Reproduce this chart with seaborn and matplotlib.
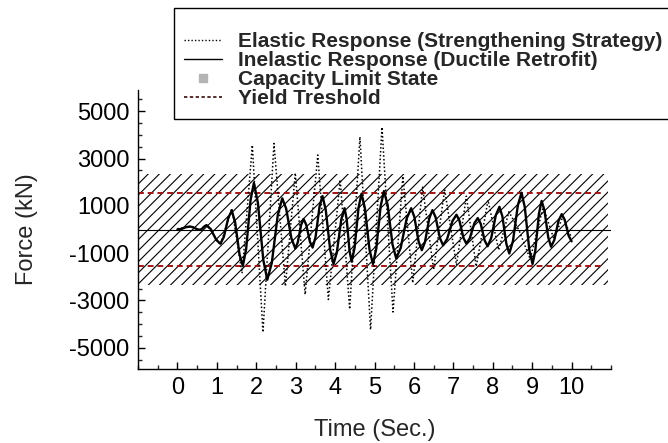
import numpy as np
import pandas as pd
import matplotlib.pyplot as plt
import seaborn as sns
from matplotlib.lines import Line2D
from matplotlib.ticker import MultipleLocator

sns.set_style("ticks")
plt.rcParams.update({
    "font.family": ["Liberation Sans", "DejaVu Sans"],
    "font.size": 17,
    "hatch.linewidth": 0.8,
    "xtick.direction": "in",
    "ytick.direction": "in",
})

# points (time in s, force in kN)
inelastic_t = [0.0, 0.10, 0.22, 0.32, 0.395, 0.495, 0.57, 0.62, 0.69, 0.74, 0.845, 0.985,
               1.09, 1.177, 1.293, 1.38, 1.464, 1.576, 1.66, 1.744, 1.856, 1.94, 2.042, 2.178,
               2.28, 2.394, 2.546, 2.66, 2.759, 2.891, 2.99, 3.053, 3.137, 3.20, 3.269, 3.361,
               3.43, 3.505, 3.605, 3.68, 3.764, 3.876, 3.96, 4.044, 4.156, 4.24, 4.294, 4.366,
               4.42, 4.495, 4.595, 4.67, 4.757, 4.873, 4.96, 5.044, 5.156, 5.24, 5.333, 5.457,
               5.55, 5.664, 5.816, 5.93, 6.011, 6.119, 6.20, 6.281, 6.389, 6.47, 6.551, 6.659,
               6.74, 6.842, 6.978, 7.08, 7.155, 7.255, 7.33, 7.417, 7.533, 7.62, 7.695, 7.795,
               7.87, 7.96, 8.08, 8.17, 8.245, 8.345, 8.42, 8.513, 8.637, 8.73, 8.814, 8.926,
               9.01, 9.079, 9.171, 9.24, 9.312, 9.408, 9.48, 9.561, 9.669, 9.75, 9.825, 9.925, 10.0]
inelastic_f = [0, 26, 99, 125, 96, 14, -15, 25, 140, 180, 19, -439,
               -600, -314, 504, 790, 310, -1060, -1540, -817, 1247, 1970, 1126, -1281,
               -2125, -1415, 610, 1320, 882, -367, -805, -548, 188, 445, 196, -516,
               -765, -316, 966, 1415, 823, -868, -1460, -974, 414, 900, 434, -894,
               -1360, -769, 919, 1510, 898, -848, -1460, -824, 989, 1625, 1039, -634,
               -1220, -783, 463, 900, 534, -509, -875, -526, 471, 820, 514, -361,
               -667, -401, 359, 625, 373, -348, -600, -376, 262, 485, 239, -464,
               -710, -366, 616, 960, 553, -608, -1015, -486, 1026, 1555, 934, -839,
               -1460, -910, 660, 1210, 810, -330, -730, -446, 366, 650, 413, -263, -500]

elastic_t = [0.0, 0.32, 0.57, 0.74, 1.09, 1.38, 1.64, 1.90, 2.17, 2.45, 2.74, 2.99,
             3.24, 3.56, 3.83, 4.13, 4.37, 4.63, 4.90, 5.19, 5.47, 5.72, 5.97, 6.22,
             6.50, 6.78, 7.08, 7.33, 7.58, 7.88, 8.15, 8.41, 8.67, 8.95, 9.28, 9.55, 9.78, 10.0]
elastic_f = [30, 130, -20, 200, -650, 900, -1850, 3570, -4350, 3640, -2400, 2390,
             -2750, 3150, -2960, 2110, -3375, 3920, -4240, 4330, -3490, 2250, -2260, 1790,
             -1700, 1690, -1500, 1410, -1570, 1240, -870, 750, -50, -1250, 950, -400, 550, -350]

capacity_limit = 2350
yield_force = 1530
x_ticks = list(range(0, 11))
y_ticks = [-5000, -3000, -1000, 1000, 3000, 5000]

inelastic = pd.DataFrame({"t": inelastic_t, "F": inelastic_f})
elastic = pd.DataFrame({"t": elastic_t, "F": elastic_f})

fig = plt.figure(figsize=(6.68, 4.43), dpi=100)
ax = fig.add_axes([138 / 668, 1 - 369 / 443, 473 / 668, 279 / 443])

# capacity band (hatched) and reference lines
ax.fill_between([-1, 10.92], -capacity_limit, capacity_limit, facecolor="white",
                edgecolor="black", hatch="///", linewidth=0, zorder=1)
ax.axhline(0, color="black", lw=0.8, zorder=2)
ax.hlines([yield_force, -yield_force], -1, 10.75, colors="#a31515",
          linestyles=(0, (3, 2)), lw=1.4, zorder=2)

sns.lineplot(data=elastic, x="t", y="F", ax=ax, color="black", lw=1.1,
             linestyle=(0, (1, 1.5)), sort=False, estimator=None, zorder=3)
sns.lineplot(data=inelastic, x="t", y="F", ax=ax, color="black", lw=1.7,
             sort=False, estimator=None, zorder=4)

ax.set_xlim(-1, 11)
ax.set_ylim(-5900, 5900)
ax.set_xticks(x_ticks)
ax.set_yticks(y_ticks)
ax.set_yticklabels([str(v) for v in y_ticks])
ax.xaxis.set_minor_locator(MultipleLocator(0.5))
ax.yaxis.set_minor_locator(MultipleLocator(500))
ax.tick_params(which="major", length=5, width=1, pad=6, colors="black")
ax.tick_params(which="minor", length=3, width=1)
sns.despine(ax=ax)
for s in ["left", "bottom"]:
    ax.spines[s].set_linewidth(1.0)
    ax.spines[s].set_color("black")

ax.set_xlabel("Time (Sec.)")
ax.set_ylabel("Force (kN)")
ax.xaxis.set_label_coords(0.5, -0.18)
ax.yaxis.set_label_coords(-0.212, 0.5)

handles = [
    Line2D([], [], color="black", lw=1, linestyle=(0, (1, 1.5))),
    Line2D([], [], color="black", lw=1),
    Line2D([], [], color="#b4b4b4", marker="s", markersize=6, linestyle="none"),
    Line2D([], [], color="#3a0a0a", lw=1.2, linestyle=(0, (2, 1.5))),
]
labels = ["Elastic Response (Strengthening Strategy)",
          "Inelastic Response (Ductile Retrofit)",
          "Capacity Limit State",
          "Yield Treshold"]
leg = fig.legend(handles, labels, loc="upper left", bbox_to_anchor=(174 / 668, 1 - 8 / 443),
                 title=" ", prop={"weight": "bold", "size": 15}, title_fontsize=11,
                 frameon=True, fancybox=False, edgecolor="black", framealpha=1,
                 borderpad=0.5, labelspacing=0.0, handlelength=1.8,
                 handletextpad=0.75, borderaxespad=0)
leg.get_frame().set_linewidth(1.0)

fig.savefig("out.png", dpi=100)
